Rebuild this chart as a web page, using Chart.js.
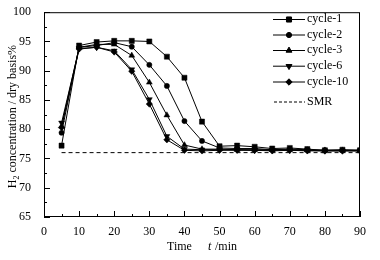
<!DOCTYPE html>
<html>
<head>
<meta charset="utf-8">
<script src="https://cdn.jsdelivr.net/npm/chart.js@4.4.1/dist/chart.umd.min.js"></script>
<style>
  html, body { margin: 0; padding: 0; background: #fff; }
  #wrap { width: 380px; height: 260px; }
</style>
</head>
<body>
<div id="wrap"><canvas id="h2Chart" width="380" height="260"></canvas></div>
<script>
// Time axis (min)
const times = [5, 10, 15, 20, 25, 30, 35, 40, 45, 50, 55, 60, 65, 70, 75, 80, 85, 90];

// H2 concentration, dry basis %
const cycle1 = [77.2, 94.3, 94.9, 95.1, 95.1, 95.0, 92.4, 88.8, 81.3, 77.1, 77.2, 77.0, 76.7, 76.8, 76.6, 76.4, 76.5, 76.4];
const cycle2 = [79.4, 94.0, 94.3, 94.8, 94.1, 91.0, 87.4, 81.4, 78.0, 76.8, 76.7, 76.7, 76.5, 76.6, 76.5, 76.4, 76.4, 76.4];
const cycle3 = [80.5, 94.0, 94.5, 94.5, 92.6, 88.0, 82.4, 77.3, 76.6, 76.6, 76.5, 76.5, 76.5, 76.5, 76.4, 76.4, 76.4, 76.4];
const cycle6 = [81.1, 93.8, 94.0, 93.4, 90.2, 85.1, 78.8, 76.6, 76.5, 76.5, 76.5, 76.4, 76.4, 76.4, 76.4, 76.3, 76.3, 76.3];
const cycle10 = [80.3, 93.7, 94.0, 93.2, 89.9, 84.3, 78.2, 76.4, 76.3, 76.4, 76.4, 76.4, 76.3, 76.4, 76.3, 76.3, 76.3, 76.3];

// SMR reference level
const smrTimes = [5, 90];
const smrLevel = 76.0;

const seriesNames = ['cycle-1', 'cycle-2', 'cycle-3', 'cycle-6', 'cycle-10'];
const seriesValues = [cycle1, cycle2, cycle3, cycle6, cycle10];
const markers = [
    { pointStyle: 'rect', radius: 3.6, rotation: 0 },
    { pointStyle: 'circle', radius: 2.6, rotation: 0 },
    { pointStyle: 'triangle', radius: 3.4, rotation: 0 },
    { pointStyle: 'triangle', radius: 3.4, rotation: 180 },
    { pointStyle: 'rectRot', radius: 3.2, rotation: 0 }
];

// Tick values
const xMajor = [0, 10, 20, 30, 40, 50, 60, 70, 80, 90];
const xMinor = [5, 15, 25, 35, 45, 55, 65, 75, 85];
const yMajor = [65, 70, 75, 80, 85, 90, 95, 100];
const yMinor = [67.5, 72.5, 77.5, 82.5, 87.5, 92.5, 97.5];

const FONT = '"Liberation Serif", "DejaVu Serif", serif';

const datasets = seriesValues.map((vals, i) => ({
    label: seriesNames[i],
    data: vals.map((v, j) => ({ x: times[j], y: v })),
    borderColor: '#000',
    backgroundColor: '#000',
    borderWidth: 1,
    pointStyle: markers[i].pointStyle,
    pointRadius: markers[i].radius,
    pointRotation: markers[i].rotation,
    pointBorderWidth: 0.5,
    tension: 0
}));

datasets.push({
    label: 'SMR',
    data: smrTimes.map(t => ({ x: t, y: smrLevel })),
    borderColor: '#000',
    borderWidth: 1,
    borderDash: [4, 3],
    pointRadius: 0,
    tension: 0
});

// frame, inward ticks, axis titles and in-plot legend
const decorPlugin = {
    id: 'decor',
    afterDraw(chart) {
        const ctx = chart.ctx;
        const a = chart.chartArea;
        const xs = chart.scales.x;
        const ys = chart.scales.y;
        ctx.save();
        ctx.strokeStyle = '#000';
        ctx.fillStyle = '#000';
        ctx.lineWidth = 1;

        // frame
        ctx.strokeRect(a.left + 0.5, a.top + 0.5, a.right - a.left - 1, a.bottom - a.top - 1);

        // ticks pointing inward
        ctx.beginPath();
        xMajor.forEach(v => {
            const px = Math.round(xs.getPixelForValue(v)) + 0.5;
            ctx.moveTo(px, a.bottom); ctx.lineTo(px, a.bottom - 6);
        });
        xMinor.forEach(v => {
            const px = Math.round(xs.getPixelForValue(v)) + 0.5;
            ctx.moveTo(px, a.bottom); ctx.lineTo(px, a.bottom - 3);
        });
        yMajor.forEach(v => {
            const py = Math.round(ys.getPixelForValue(v)) + 0.5;
            ctx.moveTo(a.left, py); ctx.lineTo(a.left + 6, py);
        });
        yMinor.forEach(v => {
            const py = Math.round(ys.getPixelForValue(v)) + 0.5;
            ctx.moveTo(a.left, py); ctx.lineTo(a.left + 3, py);
        });
        ctx.stroke();

        // y title with subscript
        ctx.save();
        ctx.translate(13, (a.top + a.bottom) / 2 + 2);
        ctx.rotate(-Math.PI / 2);
        ctx.textBaseline = 'middle';
        const part1 = 'H';
        const sub = '2';
        const part2 = ' concentration / dry basis%';
        ctx.font = '12px ' + FONT;
        const w1 = ctx.measureText(part1).width;
        const w3 = ctx.measureText(part2).width;
        ctx.font = '8px ' + FONT;
        const w2 = ctx.measureText(sub).width;
        let x0 = -(w1 + w2 + w3) / 2;
        ctx.font = '12px ' + FONT;
        ctx.fillText(part1, x0, 0);
        ctx.font = '8px ' + FONT;
        ctx.fillText(sub, x0 + w1, 4);
        ctx.font = '12px ' + FONT;
        ctx.fillText(part2, x0 + w1 + w2, 0);
        ctx.restore();

        // x title
        ctx.textBaseline = 'middle';
        ctx.textAlign = 'left';
        ctx.font = '12px ' + FONT;
        ctx.fillText('Time', 167, 247);
        ctx.font = 'italic 12px ' + FONT;
        ctx.fillText('t', 208, 247);
        ctx.font = '12px ' + FONT;
        ctx.fillText(' /min', 212, 247);

        // legend
        const lx1 = 273, lx2 = 305, tx = 307;
        const rows = [19, 34.5, 50, 65.7, 81.5];
        seriesNames.forEach((name, i) => {
            const y = rows[i];
            ctx.beginPath();
            ctx.moveTo(lx1, y + 0.5); ctx.lineTo(lx2, y + 0.5);
            ctx.stroke();
            Chart.helpers.drawPoint(ctx, {
                pointStyle: markers[i].pointStyle,
                radius: markers[i].radius,
                rotation: markers[i].rotation,
                borderWidth: 0.5
            }, (lx1 + lx2) / 2, y + 0.5);
            ctx.fillStyle = '#000';
            ctx.fillText(name, tx, y);
        });
        const sy = 101.5;
        ctx.save();
        ctx.setLineDash([3, 2]);
        ctx.beginPath();
        ctx.moveTo(lx1 + 1, sy + 0.5); ctx.lineTo(lx2, sy + 0.5);
        ctx.stroke();
        ctx.restore();
        ctx.fillText('SMR', tx, sy);

        ctx.restore();
    }
};

new Chart(document.getElementById('h2Chart'), {
    type: 'line',
    data: { datasets: datasets },
    options: {
        responsive: false,
        animation: false,
        layout: { padding: { top: 10, right: 20, left: 0, bottom: 0 } },
        plugins: {
            legend: { display: false },
            tooltip: { enabled: false }
        },
        scales: {
            x: {
                type: 'linear',
                min: 0,
                max: 90,
                grid: { display: false },
                border: { display: false },
                afterFit: s => { s.height = 43; },
                ticks: {
                    stepSize: 10,
                    padding: 0,
                    color: '#000',
                    font: { family: FONT, size: 12 },
                    maxRotation: 0
                }
            },
            y: {
                min: 65,
                max: 100,
                grid: { display: false },
                border: { display: false },
                afterFit: s => { s.width = 44; },
                ticks: {
                    stepSize: 5,
                    padding: 5,
                    color: '#000',
                    font: { family: FONT, size: 12 }
                }
            }
        }
    },
    plugins: [decorPlugin]
});
</script>
</body>
</html>
